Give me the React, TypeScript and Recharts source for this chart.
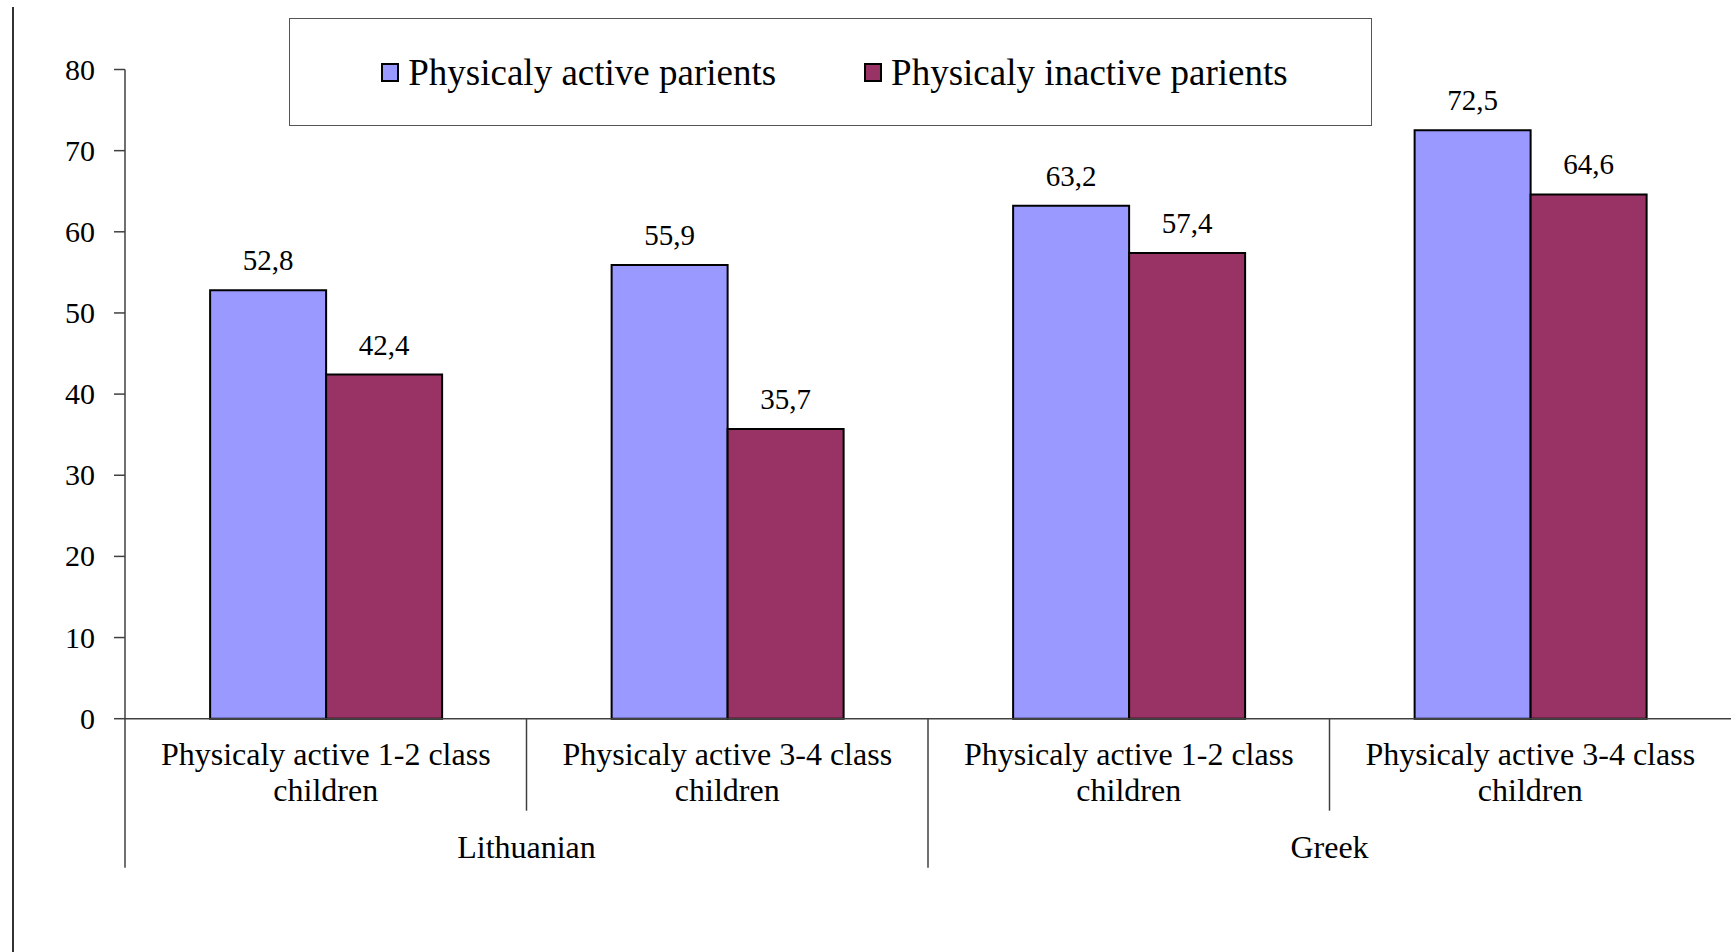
import { BarChart, Bar, XAxis, YAxis, LabelList } from 'recharts';

const categoryLabels = [
  'Physicaly active 1-2 class children',
  'Physicaly active 3-4 class children',
  'Physicaly active 1-2 class children',
  'Physicaly active 3-4 class children',
];
const categoryGroups = ['Lithuanian', 'Lithuanian', 'Greek', 'Greek'];
const activeParents = [52.8, 55.9, 63.2, 72.5];
const inactiveParents = [42.4, 35.7, 57.4, 64.6];
const yTicks = [0, 10, 20, 30, 40, 50, 60, 70, 80];
const seriesNames = ['Physicaly active parients', 'Physicaly inactive parients'];
const seriesColors = ['#9999FF', '#993366'];

const data = categoryLabels.map((name, i) => ({
  name,
  group: categoryGroups[i],
  active: activeParents[i],
  inactive: inactiveParents[i],
}));

const W = 1731;
const H = 952;
const Y_AXIS_W = 125;
const BAND = (W - Y_AXIS_W) / categoryLabels.length;
const SERIF = 'Liberation Serif';
const AXIS = '#404040';

const fmt = (v: any) => Number(v).toFixed(1).replace('.', ',');

const CategoryTick = (props: any) => {
  const { x, y, payload } = props;
  const i = payload.index;
  const words = String(payload.value).split(' ');
  const line1 = words.slice(0, -1).join(' ');
  const line2 = words[words.length - 1];
  const left = x - BAND / 2;
  const groupStart = i === 0 || categoryGroups[i] !== categoryGroups[i - 1];
  const groupSize = categoryGroups.filter((g) => g === categoryGroups[i]).length;
  return (
    <g>
      <line x1={left} x2={left} y1={y} y2={y + (groupStart ? 149 : 92)} stroke={AXIS} strokeWidth={1.5} />
      <text x={x} y={y + 46} textAnchor="middle" fontFamily={SERIF} fontSize={32} fill="#000">{line1}</text>
      <text x={x} y={y + 82} textAnchor="middle" fontFamily={SERIF} fontSize={32} fill="#000">{line2}</text>
      {groupStart && (
        <text x={left + (groupSize * BAND) / 2} y={y + 139} textAnchor="middle" fontFamily={SERIF} fontSize={32} fill="#000">
          {categoryGroups[i]}
        </text>
      )}
    </g>
  );
};

const YTick = (props: any) => {
  const { x, y, payload } = props;
  return (
    <text x={x} y={y} dy={10} textAnchor="end" fill="#000" fontFamily={SERIF} fontSize={30}>
      {payload.value}
    </text>
  );
};

const ValueLabel = (props: any) => {
  const { x, y, width, value } = props;
  return (
    <text x={x + width / 2} y={y - 20} textAnchor="middle" fill="#000" fontFamily={SERIF} fontSize={29}>
      {fmt(value)}
    </text>
  );
};

export default function App() {
  return (
    <div style={{ position: 'relative', width: W, height: H, background: '#fff', fontFamily: SERIF }}>
      <style>{'body{margin:0}'}</style>
      <div style={{ position: 'absolute', left: 12, top: 7, width: 1.5, height: H - 7, background: '#333' }} />
      <BarChart
        width={W}
        height={H}
        data={data}
        margin={{ top: 69.5, right: 0, bottom: 0, left: 0 }}
        barCategoryGap="21.2%"
        barGap={0}
      >
        <XAxis
          dataKey="name"
          interval={0}
          height={H - 69.5 - 649.2}
          tickLine={false}
          tickSize={0}
          tickMargin={0}
          axisLine={{ stroke: AXIS, strokeWidth: 1.5 }}
          tick={<CategoryTick />}
        />
        <YAxis
          width={Y_AXIS_W}
          domain={[0, 80]}
          ticks={yTicks}
          interval={0}
          tickSize={11}
          tickMargin={19}
          axisLine={{ stroke: AXIS, strokeWidth: 1.5 }}
          tickLine={{ stroke: AXIS, strokeWidth: 1.5 }}
          tick={<YTick />}
        />
        <Bar dataKey="active" name={seriesNames[0]} fill={seriesColors[0]} stroke="#000" strokeWidth={2} isAnimationActive={false}>
          <LabelList dataKey="active" content={<ValueLabel />} />
        </Bar>
        <Bar dataKey="inactive" name={seriesNames[1]} fill={seriesColors[1]} stroke="#000" strokeWidth={2} isAnimationActive={false}>
          <LabelList dataKey="inactive" content={<ValueLabel />} />
        </Bar>
      </BarChart>
      <div
        style={{
          position: 'absolute',
          left: 289,
          top: 18,
          width: 1083,
          height: 108,
          boxSizing: 'border-box',
          border: '1.5px solid #555',
          display: 'flex',
          alignItems: 'center',
          justifyContent: 'center',
          gap: 88,
          paddingLeft: 8,
          fontFamily: SERIF,
          fontSize: 37,
          color: '#000',
        }}
      >
        {seriesNames.map((n, i) => (
          <div key={n} style={{ display: 'flex', alignItems: 'center', gap: 9 }}>
            <span
              style={{
                display: 'inline-block',
                width: 18,
                height: 19,
                boxSizing: 'border-box',
                border: '2px solid #000',
                background: seriesColors[i],
              }}
            />
            <span>{n}</span>
          </div>
        ))}
      </div>
    </div>
  );
}
